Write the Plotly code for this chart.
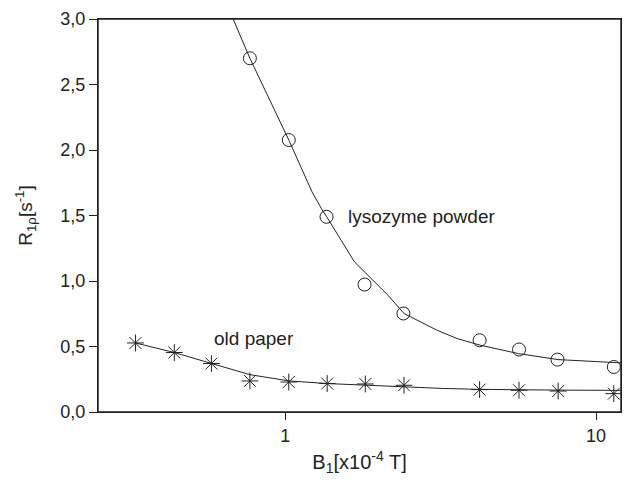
import plotly.graph_objects as go

# Data
lyso_x = [0.77, 1.027, 1.358, 1.80, 2.40, 4.22, 5.65, 7.51, 11.4]
lyso_y = [2.70, 2.076, 1.49, 0.973, 0.752, 0.548, 0.477, 0.40, 0.344]

paper_x = [0.33, 0.44, 0.579, 0.77, 1.027, 1.365, 1.81, 2.41, 4.22, 5.65, 7.55, 11.4]
paper_y = [0.527, 0.454, 0.37, 0.237, 0.229, 0.217, 0.214, 0.204, 0.171, 0.166, 0.16, 0.14]

# Fitted curves
lyso_fit_x = [0.68, 0.77, 1.03, 1.22, 1.31, 1.36, 1.67, 2.14, 2.41, 3.08, 3.57, 4.24, 5.62, 7.55, 11.6, 12.0]
lyso_fit_y = [3.0, 2.70, 2.07, 1.68, 1.55, 1.49, 1.146, 0.892, 0.752, 0.624, 0.561, 0.51, 0.446, 0.40, 0.377, 0.375]

paper_fit_x = [0.33, 0.44, 0.58, 0.77, 1.03, 1.37, 1.81, 2.41, 3.2, 4.22, 5.65, 7.55, 12.0]
paper_fit_y = [0.527, 0.454, 0.37, 0.285, 0.237, 0.217, 0.205, 0.192, 0.18, 0.173, 0.169, 0.167, 0.165]

x_tick_vals = [1, 10]
x_tick_text = ["1", "10"]
y_tick_vals = [0.0, 0.5, 1.0, 1.5, 2.0, 2.5, 3.0]
y_tick_text = ["0,0", "0,5", "1,0", "1,5", "2,0", "2,5", "3,0"]

FONT = "Liberation Sans, Arial, sans-serif"
C = "#222222"

fig = go.Figure()
fig.add_trace(go.Scatter(x=lyso_fit_x, y=lyso_fit_y, mode="lines",
                         line=dict(color=C, width=1), showlegend=False, hoverinfo="skip"))
fig.add_trace(go.Scatter(x=paper_fit_x, y=paper_fit_y, mode="lines",
                         line=dict(color=C, width=1), showlegend=False, hoverinfo="skip"))
fig.add_trace(go.Scatter(x=lyso_x, y=lyso_y, mode="markers", name="lysozyme powder",
                         marker=dict(symbol="circle-open", size=13, color=C, line=dict(width=1, color=C)),
                         showlegend=False))
fig.add_trace(go.Scatter(x=paper_x, y=paper_y, mode="markers", name="old paper",
                         marker=dict(symbol="asterisk-open", size=14, color=C, line=dict(width=1, color=C)),
                         showlegend=False))

xr = [-0.602, 1.08]
fig.update_layout(
    width=627, height=481,
    margin=dict(l=98, r=6, t=19, b=69),
    paper_bgcolor="white", plot_bgcolor="white",
    font=dict(family=FONT, size=18, color=C),
    xaxis=dict(type="log", range=xr, tickvals=x_tick_vals, ticktext=x_tick_text,
               ticks="outside", ticklen=7, tickwidth=1, tickcolor=C,
               showline=True, mirror=True, linecolor=C, linewidth=1.2, showgrid=False, zeroline=False,
               title=dict(text="B<sub>1</sub>[x10<sup>-4</sup> T]", font=dict(size=20), standoff=10)),
    yaxis=dict(range=[0, 3], tickvals=y_tick_vals, ticktext=y_tick_text,
               ticks="outside", ticklen=8, tickwidth=1, tickcolor=C,
               showline=True, mirror=True, linecolor=C, linewidth=1.2, showgrid=False, zeroline=False,
               title=dict(text="R<sub>1ρ</sub>[s<sup>-1</sup>]", font=dict(size=19), standoff=22)),
    shapes=[dict(type="rect", xref="paper", yref="paper", x0=0, y0=0, x1=1, y1=1,
                 line=dict(color=C, width=1.5), fillcolor="rgba(0,0,0,0)", layer="above")],
    annotations=[
        dict(x=0.196, y=1.49, xref="x", yref="y", text="lysozyme powder",
             showarrow=False, xanchor="left", yanchor="middle",
             font=dict(size=19, color=C)),
        dict(x=-0.235, y=0.56, xref="x", yref="y", text="old paper",
             showarrow=False, xanchor="left", yanchor="middle",
             font=dict(size=19, color=C)),
    ],
)
fig.write_html("out.html")
